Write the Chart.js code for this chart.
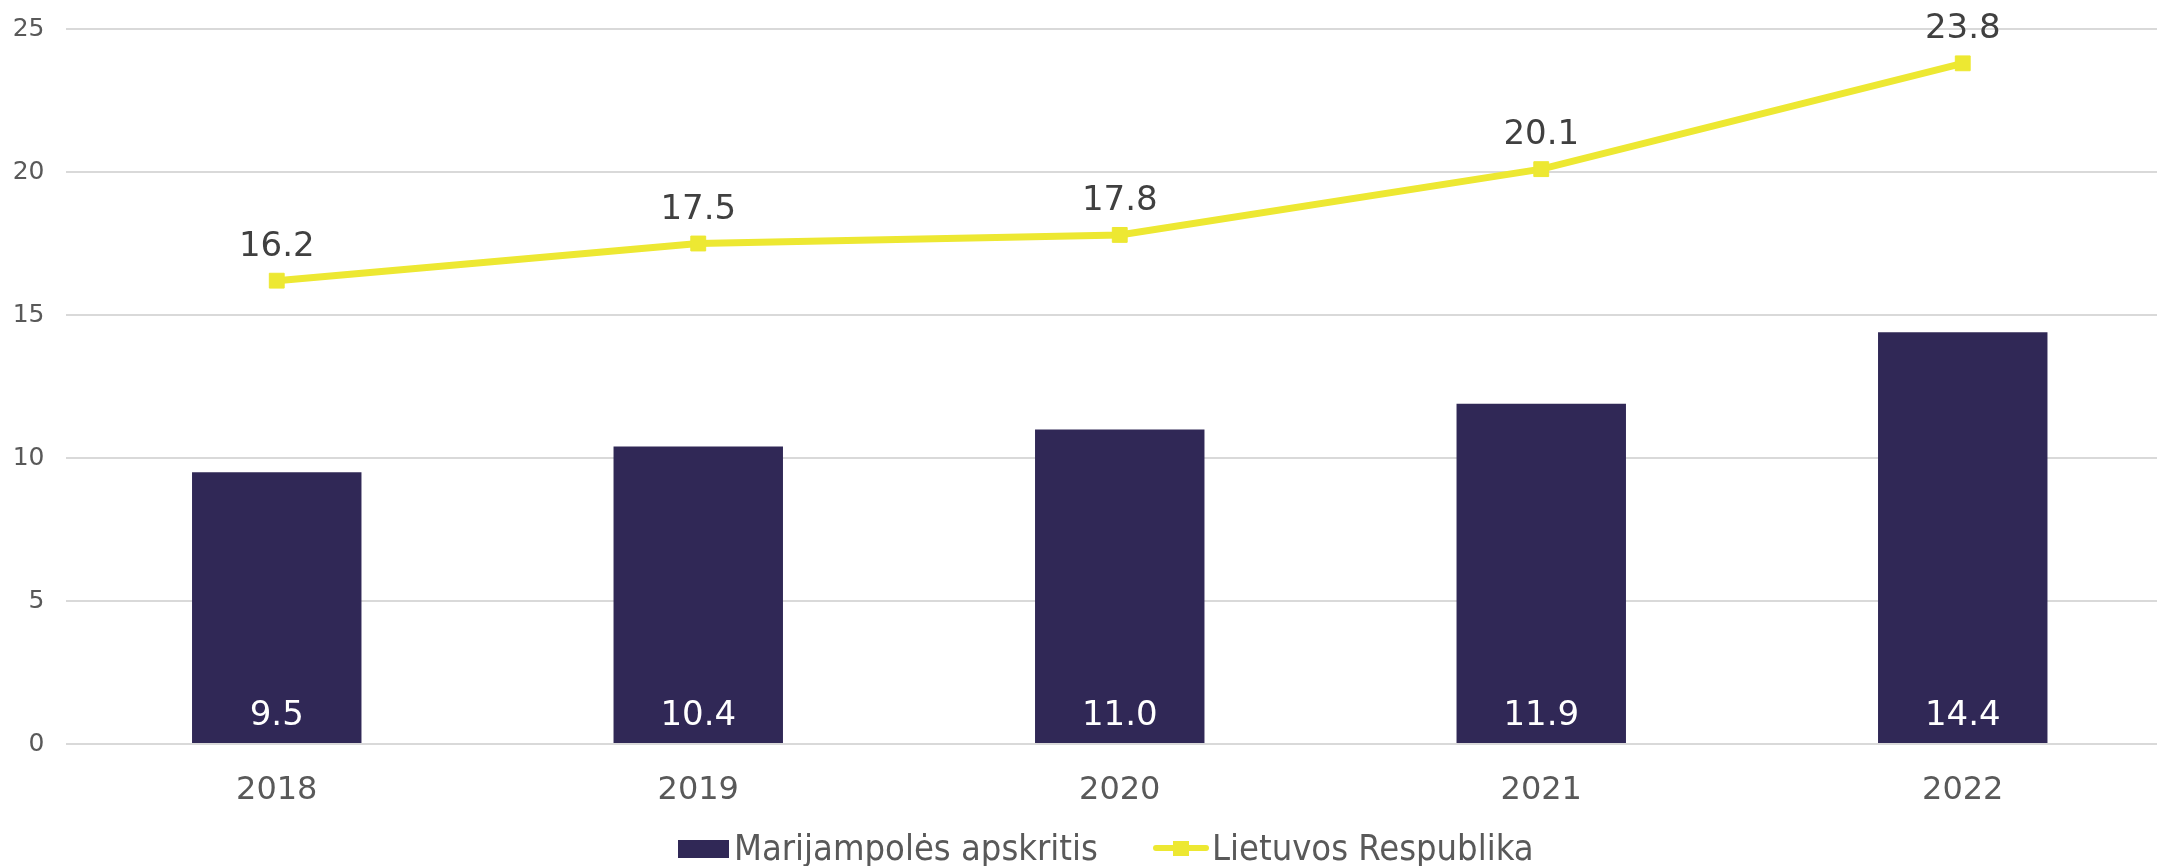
<!DOCTYPE html>
<html>
<head>
<meta charset="utf-8">
<script src="https://cdn.jsdelivr.net/npm/chart.js@4.4.1/dist/chart.umd.min.js"></script>
<style>
  html, body { margin: 0; padding: 0; background: #fff; width: 2157px; height: 866px; overflow: hidden; }
  #c { position: absolute; left: 0; top: 0; width: 2185px; height: 866px; }
  .lg-text { position: absolute; font-family: "DejaVu Sans Condensed", "DejaVu Sans", sans-serif; font-size: 36px; line-height: 36px; color: #595959; white-space: nowrap; }
  .lg-box { position: absolute; background: #302856; }
  .lg-line { position: absolute; background: #EDE832; border-radius: 3px; }
  .lg-sq { position: absolute; background: #EDE832; }
</style>
</head>
<body>
<canvas id="c" width="2185" height="866"></canvas>
<div class="lg-box" style="left:678px; top:840px; width:51px; height:18px;"></div>
<div class="lg-text" style="left:734px; top:830px;">Marijampolės apskritis</div>
<div class="lg-line" style="left:1153px; top:845px; width:56px; height:6px;"></div>
<div class="lg-sq" style="left:1173px; top:841px; width:16px; height:15px;"></div>
<div class="lg-text" style="left:1212px; top:830px;">Lietuvos Respublika</div>
<script>
const categories = ['2018', '2019', '2020', '2021', '2022'];
const countyValues = [9.5, 10.4, 11.0, 11.9, 14.4];
const nationalValues = [16.2, 17.5, 17.8, 20.1, 23.8];
const countyName = 'Marijampolės apskritis';
const nationalName = 'Lietuvos Respublika';
const yTicks = [0, 5, 10, 15, 20, 25];

Chart.defaults.font.family = '"DejaVu Sans", Verdana, sans-serif';

const valueLabels = {
  id: 'valueLabels',
  afterDatasetsDraw(chart) {
    const ctx = chart.ctx;
    chart.data.datasets.forEach((ds, i) => {
      const meta = chart.getDatasetMeta(i);
      meta.data.forEach((el, j) => {
        const v = ds.data[j];
        ctx.save();
        ctx.font = '34px "DejaVu Sans", Verdana, sans-serif';
        ctx.textAlign = 'center';
        ctx.textBaseline = 'alphabetic';
        if (ds.type === 'line') {
          ctx.fillStyle = '#404040';
          ctx.fillText(v.toFixed(1), el.x, el.y - 25);
        } else {
          ctx.fillStyle = '#ffffff';
          ctx.fillText(v.toFixed(1), el.x, el.base - 18);
        }
        ctx.restore();
      });
    });
  }
};

new Chart(document.getElementById('c'), {
  data: {
    labels: categories,
    datasets: [
      {
        type: 'line',
        label: nationalName,
        data: nationalValues,
        borderColor: '#EDE832',
        backgroundColor: '#EDE832',
        borderWidth: 7,
        pointStyle: 'rect',
        pointRadius: 10.5,
        pointBorderWidth: 1,
        pointBackgroundColor: '#EDE832',
        pointBorderColor: '#EDE832',
        tension: 0,
        order: 0
      },
      {
        type: 'bar',
        label: countyName,
        data: countyValues,
        backgroundColor: '#302856',
        borderWidth: 0,
        categoryPercentage: 1.0,
        barPercentage: 0.402,
        order: 1
      }
    ]
  },
  options: {
    responsive: false,
    animation: false,
    devicePixelRatio: 1,
    layout: { padding: { top: 29, right: 1, left: 0, bottom: 0 } },
    plugins: { legend: { display: false }, tooltip: { enabled: false } },
    scales: {
      x: {
        type: 'category',
        offset: true,
        grid: { display: false, drawTicks: false },
        border: { display: false },
        ticks: { font: { size: 32 }, color: '#595959', padding: 27, maxRotation: 0 },
        afterFit(scale) { scale.height = 122; }
      },
      y: {
        min: 0,
        max: 25,
        afterBuildTicks(scale) { scale.ticks = yTicks.map(v => ({ value: v })); },
        grid: { color: '#d9d9d9', lineWidth: 2, drawTicks: true, tickLength: 21.5, tickColor: 'rgba(0,0,0,0)' },
        border: { display: false },
        ticks: { font: { size: 25 }, color: '#595959', padding: 0 },
        afterFit(scale) { scale.width = 66; }
      }
    }
  },
  plugins: [valueLabels]
});
</script>
</body>
</html>
